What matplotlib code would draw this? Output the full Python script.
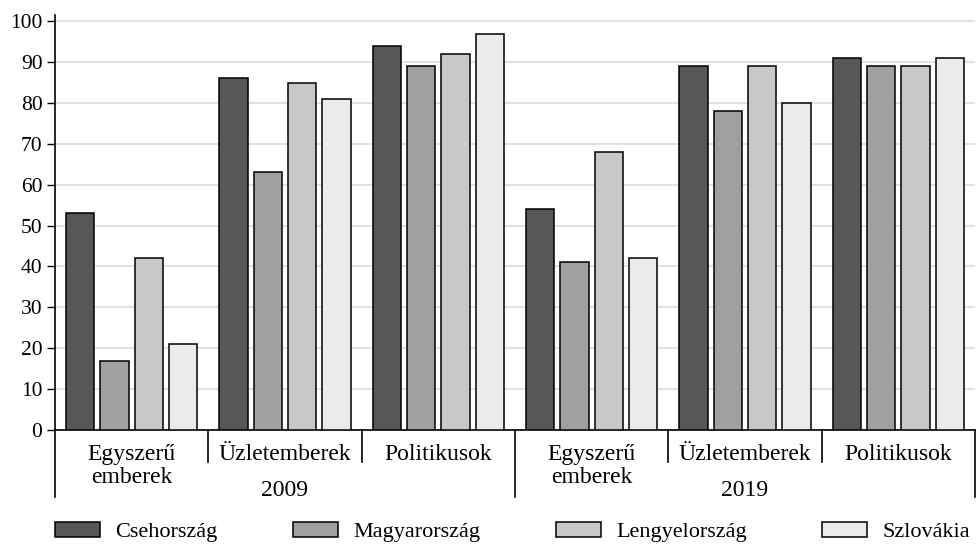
import numpy as np
from matplotlib import pyplot as plt
import matplotlib.transforms as mtransforms

plt.rcParams['font.family'] = ['Liberation Serif', 'DejaVu Serif']

countries = ['Csehország', 'Magyarország', 'Lengyelország', 'Szlovákia']
colors = ['#575757', '#a0a0a0', '#c8c8c8', '#eaebea']
years = ['2009', '2019']
groups = ['Egyszerű\nemberek', 'Üzletemberek', 'Politikusok']

# values per country, order: 2009 (3 groups), 2019 (3 groups)
cz = [53, 86, 94, 54, 89, 91]
hu = [17, 63, 89, 41, 78, 89]
pl = [42, 85, 92, 68, 89, 89]
sk = [21, 81, 97, 42, 80, 91]
series = [cz, hu, pl, sk]

fs = 15.5
fs2 = 17
fig = plt.figure(figsize=(9.77, 5.45), dpi=100)
ax = fig.add_axes([55/977, 115/545, 920/977, 415.3/545])

n = len(cz)
x = np.arange(n)
step = 0.224
width = 0.183
for k, (vals, c, name) in enumerate(zip(series, colors, countries)):
    ax.bar(x + (k - 1.5) * step, vals, width, color=c, edgecolor='black',
           linewidth=1.1, label=name, zorder=3)

ax.set_xlim(-0.5, n - 0.5)
ax.set_ylim(0, 101.6)
ax.set_yticks(range(0, 101, 10))
ax.tick_params(axis='y', labelsize=fs, length=6, width=1, direction='out', pad=3)
ax.set_xticks([])
ax.grid(axis='y', color='#dcdcdc', linewidth=1.2, zorder=0)
for s in ['top', 'right']:
    ax.spines[s].set_visible(False)
ax.spines['left'].set_linewidth(1.2)
ax.spines['bottom'].set_linewidth(1.2)

# hierarchical category axis
trans = mtransforms.blended_transform_factory(ax.transData, ax.transAxes)
ng = len(groups)
for b in range(n + 1):
    outer = b % ng == 0
    y_end = -0.162 if outer else -0.077
    ax.plot([b - 0.5, b - 0.5], [0, y_end], color='black', lw=1.2,
            transform=trans, clip_on=False)
for i in range(n):
    ax.text(x[i], -0.034, groups[i % ng], transform=trans, ha='center', va='top',
            fontsize=fs2, linespacing=1.1)
for j, yr in enumerate(years):
    ax.text(j * ng + (ng - 1) / 2, -0.121, yr, transform=trans, ha='center',
            va='top', fontsize=fs2)

fig.legend(loc='center left', bbox_to_anchor=(55/977, 13/545), ncol=4,
           frameon=False, fontsize=16, handlelength=2.03, handleheight=0.63,
           handletextpad=0.68, columnspacing=3.4, borderpad=0, borderaxespad=0)

fig.savefig('out.png', dpi=100)
